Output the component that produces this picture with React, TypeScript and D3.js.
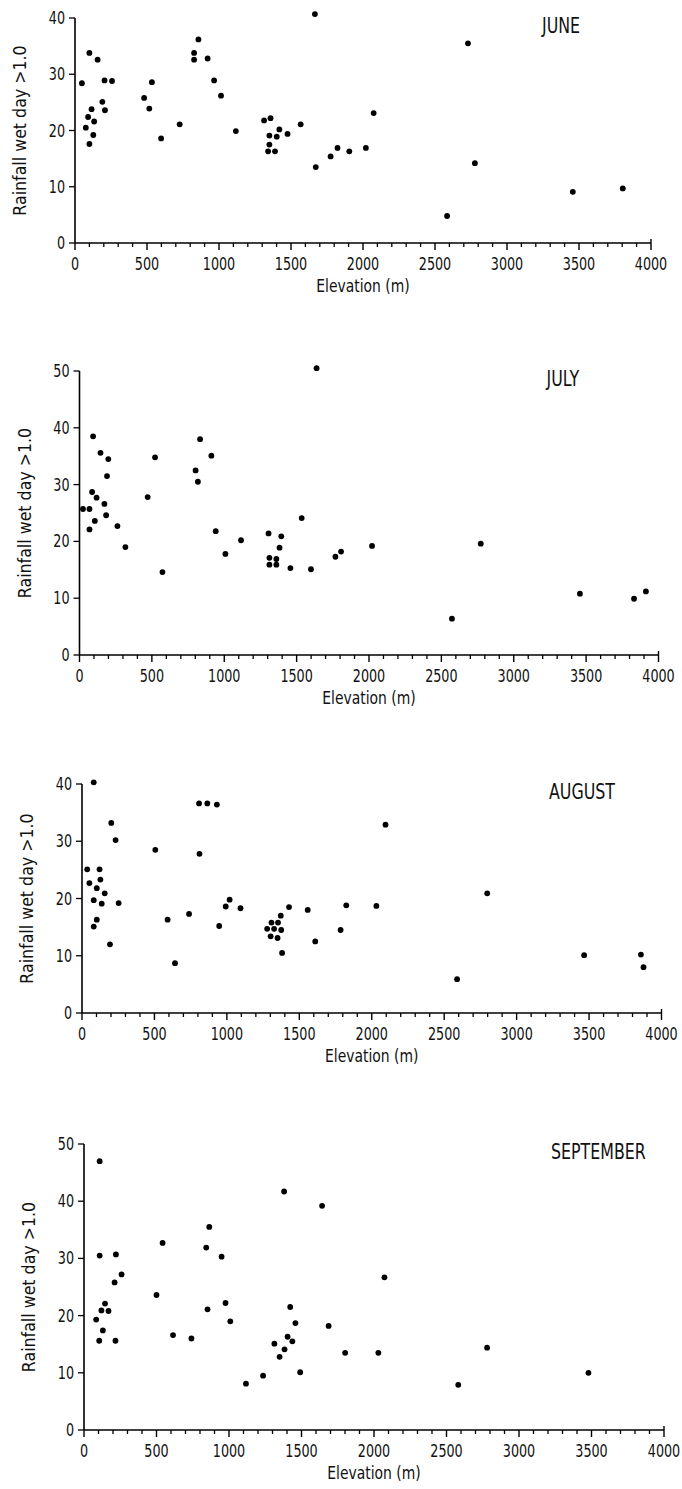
import React from 'react';
import { scaleLinear, range } from 'd3';

// values (elevation m, rainfall per wet day)
const monthNames = ['JUNE', 'JULY', 'AUGUST', 'SEPTEMBER'];
const yMaxes = [40, 50, 40, 50];
const xTicks = [0, 500, 1000, 1500, 2000, 2500, 3000, 3500, 4000];

const juneElev = [48, 100, 157, 205, 257, 190, 208, 115, 91, 133, 75, 127, 100, 480, 516, 534, 598, 727, 827, 827, 857, 921, 966, 1014, 1117, 1313, 1358, 1350, 1350, 1341, 1389, 1401, 1419, 1476, 1567, 1666, 1672, 1775, 1823, 1905, 2020, 2074, 2584, 2729, 2777, 3457, 3804];
const juneDays = [28.4, 33.8, 32.6, 28.9, 28.8, 25.1, 23.6, 23.8, 22.4, 21.6, 20.5, 19.2, 17.6, 25.8, 23.9, 28.6, 18.6, 21.1, 33.8, 32.6, 36.2, 32.8, 28.9, 26.2, 19.9, 21.8, 22.2, 19.1, 17.5, 16.3, 16.3, 18.9, 20.2, 19.4, 21.1, 40.7, 13.5, 15.4, 16.9, 16.3, 16.9, 23.1, 4.8, 35.5, 14.2, 9.1, 9.7];

const julyElev = [94, 145, 199, 190, 87, 118, 24, 69, 172, 184, 106, 69, 262, 317, 471, 522, 573, 802, 833, 818, 911, 941, 1008, 1116, 1306, 1394, 1382, 1312, 1360, 1312, 1360, 1457, 1535, 1599, 1638, 1768, 1807, 2021, 2573, 2772, 3457, 3831, 3913];
const julyDays = [38.5, 35.6, 34.5, 31.5, 28.7, 27.7, 25.7, 25.7, 26.6, 24.6, 23.6, 22.1, 22.7, 19.0, 27.8, 34.8, 14.6, 32.5, 38.0, 30.5, 35.1, 21.8, 17.8, 20.2, 21.4, 20.9, 18.9, 17.1, 16.9, 15.9, 15.9, 15.3, 24.1, 15.1, 50.5, 17.3, 18.2, 19.2, 6.4, 19.6, 10.8, 9.9, 11.2];

const augElev = [81, 202, 232, 36, 121, 51, 127, 102, 157, 81, 136, 253, 102, 81, 193, 506, 591, 642, 739, 808, 865, 931, 811, 947, 992, 1019, 1094, 1278, 1308, 1353, 1326, 1375, 1302, 1350, 1372, 1381, 1429, 1558, 1610, 1785, 1824, 2032, 2095, 2589, 2797, 3466, 3858, 3876];
const augDays = [40.3, 33.2, 30.2, 25.1, 25.1, 22.7, 23.3, 21.8, 20.9, 19.7, 19.1, 19.2, 16.3, 15.1, 12.0, 28.5, 16.3, 8.7, 17.3, 36.6, 36.6, 36.4, 27.8, 15.2, 18.6, 19.8, 18.3, 14.7, 15.8, 15.8, 14.7, 14.5, 13.4, 13.1, 17.0, 10.5, 18.5, 18.0, 12.5, 14.5, 18.8, 18.7, 32.9, 5.9, 20.9, 10.1, 10.2, 8.0];

const sepElev = [108, 108, 220, 211, 259, 145, 120, 169, 84, 130, 105, 217, 500, 542, 614, 741, 843, 864, 852, 949, 976, 1009, 1117, 1235, 1313, 1349, 1383, 1380, 1404, 1422, 1437, 1458, 1491, 1642, 1687, 1801, 2030, 2072, 2581, 2780, 3479];
const sepDays = [47.0, 30.5, 30.7, 25.8, 27.2, 22.1, 20.9, 20.8, 19.3, 17.4, 15.6, 15.6, 23.6, 32.7, 16.6, 16.0, 31.9, 35.5, 21.1, 30.3, 22.2, 19.0, 8.1, 9.5, 15.1, 12.8, 14.1, 41.7, 16.3, 21.5, 15.5, 18.7, 10.1, 39.2, 18.2, 13.5, 13.5, 26.7, 7.9, 14.4, 10.0];

const elevs = [juneElev, julyElev, augElev, sepElev];
const days = [juneDays, julyDays, augDays, sepDays];

// panel frames in page pixels
const frames = [
  { left: 75, right: 651, top: 18, bottom: 243 },
  { left: 79.5, right: 658.5, top: 371, bottom: 655 },
  { left: 82, right: 661.5, top: 784, bottom: 1013 },
  { left: 84, right: 664, top: 1144, bottom: 1430 },
];

const FONT = '"DejaVu Sans", sans-serif';

function Txt({ x, y, size, anchor = 'middle', sx = 0.75, rot = false, children }) {
  return (
    <text
      transform={`translate(${x},${y})${rot ? ' rotate(-90)' : ''} scale(${sx},1)`}
      fontSize={size}
      fontFamily={FONT}
      textAnchor={anchor}
      fill="#111"
    >
      {children}
    </text>
  );
}

function Panel({ idx }) {
  const f = frames[idx];
  const yMax = yMaxes[idx];
  const x = scaleLinear().domain([0, 4000]).range([f.left, f.right]);
  const y = scaleLinear().domain([0, yMax]).range([f.bottom, f.top]);
  const yTicks = range(0, yMax + 1, 10);
  const minor = range(0, 4001, 100).filter((d) => d % 500 !== 0);

  return (
    <g>
      {/* axes */}
      <line x1={f.left} x2={f.left} y1={f.top} y2={f.bottom} stroke="#000" strokeWidth={1.6} />
      <line x1={f.left} x2={f.right} y1={f.bottom} y2={f.bottom} stroke="#000" strokeWidth={1.6} />

      {yTicks.map((t) => (
        <g key={'y' + t}>
          <line x1={f.left - 6} x2={f.left} y1={y(t)} y2={y(t)} stroke="#000" strokeWidth={1.3} />
          <Txt x={f.left - 10} y={y(t) + 6} size={17} anchor="end">{t}</Txt>
        </g>
      ))}

      {minor.map((t) => (
        <line key={'m' + t} x1={x(t)} x2={x(t)} y1={f.bottom} y2={f.bottom + 4} stroke="#000" strokeWidth={1.3} />
      ))}
      {xTicks.map((t) => (
        <g key={'x' + t}>
          <line x1={x(t)} x2={x(t)} y1={f.bottom - (t === 4000 ? 4 : 0)} y2={f.bottom + 7} stroke="#000" strokeWidth={1.4} />
          <Txt x={x(t)} y={f.bottom + 27} size={17}>{t}</Txt>
        </g>
      ))}

      {elevs[idx].map((e, i) => (
        <circle key={i} cx={x(e)} cy={y(days[idx][i])} r={2.9} fill="#000" />
      ))}

      <Txt x={f.left + 467} y={f.top + 15} size={22} anchor="start" sx={0.72}>{monthNames[idx]}</Txt>
      <Txt x={(f.left + f.right) / 2} y={f.bottom + 49} size={17} sx={0.82}>Elevation (m)</Txt>
      <Txt x={f.left - 49} y={(f.top + f.bottom) / 2} size={18} sx={0.88} rot>Rainfall wet day &gt;1.0</Txt>
    </g>
  );
}

export default function App() {
  return (
    <svg
      width={682}
      height={1489}
      style={{ position: 'absolute', left: 0, top: 0, background: '#fff' }}
    >
      <rect width={682} height={1489} fill="#fff" />
      {monthNames.map((m, i) => (
        <Panel key={m} idx={i} />
      ))}
    </svg>
  );
}
